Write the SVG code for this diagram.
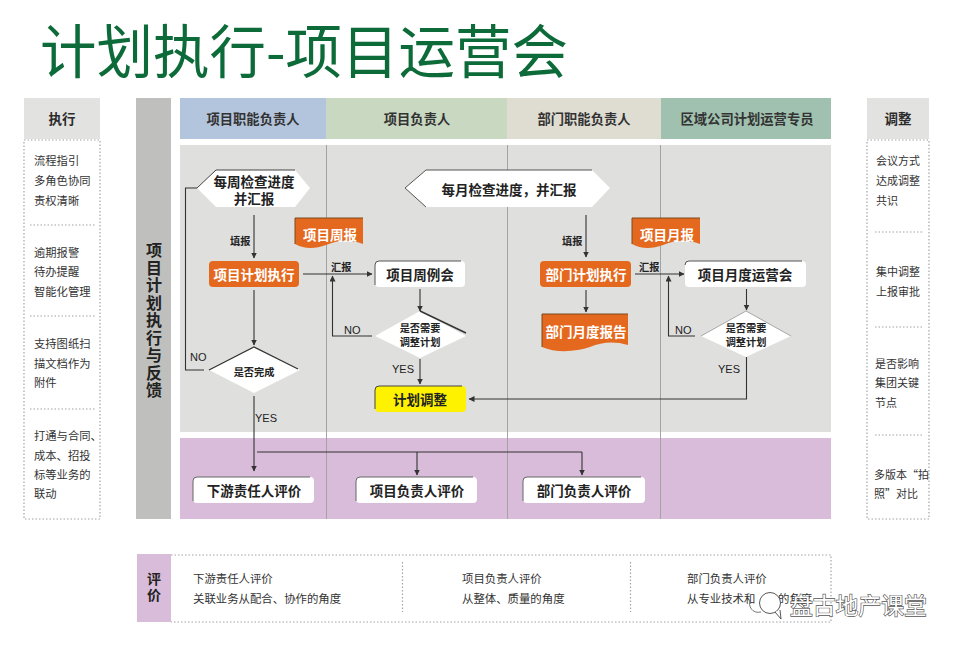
<svg xmlns="http://www.w3.org/2000/svg" width="958" height="646" viewBox="0 0 958 646">
<style>
text{font-family:"Noto Sans CJK SC","Liberation Sans",sans-serif;dominant-baseline:central;fill:#2b2b2b}
.c{text-anchor:middle}
.v{writing-mode:vertical-rl;text-orientation:upright;font-weight:700;text-anchor:middle;fill:#222}
.h{font-size:13.3px;font-weight:700;text-anchor:middle;fill:#333}
.n{font-size:13.5px;font-weight:700;text-anchor:middle;fill:#222}
.o{font-size:13.5px;font-weight:700;text-anchor:middle;fill:#fff}
.d{font-size:10.2px;font-weight:700;text-anchor:middle;fill:#222}
.s{font-size:11.3px;fill:#333}
.r{font-size:11px;fill:#333}
.b{font-size:11.4px;fill:#333}
.l{font-size:10.2px;font-weight:700;fill:#222}
.e{font-family:"Liberation Sans",sans-serif;font-size:11px;fill:#222}
.w{fill:#fff}
.or{fill:#e4691e}
.dot{fill:none;stroke:#a3a3a3;stroke-width:1.2;stroke-dasharray:1.5 2}
.cn{fill:none;stroke:#333;stroke-width:1.1}
.arr{marker-end:url(#a)}
.lane{stroke:#a3a3a3;stroke-width:1;fill:none}
</style>
<defs>
<marker id="a" markerUnits="userSpaceOnUse" markerWidth="7" markerHeight="7" refX="5.5" refY="3" orient="auto"><path d="M0,0L6,3L0,6Z" fill="#333"/></marker>
</defs>
<rect width="958" height="646" fill="#fff"/>
<text id="title" x="40" y="48" font-size="58" textLength="528" lengthAdjust="spacingAndGlyphs" style="fill:#0d6b3a">计划执行-项目运营会</text>

<g id="exec-panel">
<rect x="24" y="98" width="76" height="41" fill="#e2e2e0"/>
<text x="62" y="118" font-size="13.5" font-weight="700" class="c">执行</text>
<rect class="dot" x="24" y="140" width="76" height="379"/>
<path class="dot" d="M30,225H95M30,316H95M30,409H95"/>
<text class="s" x="34" y="160">流程指引</text><text class="s" x="34" y="180">多角色协同</text><text class="s" x="34" y="200">责权清晰</text>
<text class="s" x="34" y="252">逾期报警</text><text class="s" x="34" y="271">待办提醒</text><text class="s" x="34" y="291">智能化管理</text>
<text class="s" x="34" y="343">支持图纸扫</text><text class="s" x="34" y="363">描文档作为</text><text class="s" x="34" y="382">附件</text>
<text class="s" x="34" y="435">打通与合同、</text><text class="s" x="34" y="455">成本、招投</text><text class="s" x="34" y="474">标等业务的</text><text class="s" x="34" y="493">联动</text>
</g>

<g id="adjust-panel">
<rect x="867" y="98" width="62" height="41" fill="#e2e2e0"/>
<text x="898" y="118" font-size="13.5" font-weight="700" class="c">调整</text>
<rect class="dot" x="867" y="140" width="62" height="379"/>
<path class="dot" d="M875,232H922M875,327H922M875,435H922"/>
<text class="r" x="876" y="160">会议方式</text><text class="r" x="876" y="180">达成调整</text><text class="r" x="876" y="200">共识</text>
<text class="r" x="876" y="271">集中调整</text><text class="r" x="876" y="291">上报审批</text>
<text class="r" x="875" y="363">是否影响</text><text class="r" x="875" y="382">集团关键</text><text class="r" x="875" y="402">节点</text>
<text class="r" x="874" y="474">多版本“拍</text><text class="r" x="874" y="493">照”对比</text>
</g>

<g id="side-title">
<rect x="136" y="98" width="35" height="421" fill="#bfbfbd"/>
<text class="v" x="154" y="321" font-size="16" letter-spacing="1.5">项目计划执行与反馈</text>
</g>

<g id="swimlanes">
<rect x="180" y="98" width="146" height="41" fill="#b3c5dc"/>
<rect x="326" y="98" width="181" height="41" fill="#c9d8c1"/>
<rect x="507" y="98" width="154" height="41" fill="#dfddd2"/>
<rect x="661" y="98" width="170" height="41" fill="#a0c1af"/>
<text class="h" x="253" y="118">项目职能负责人</text>
<text class="h" x="417" y="118">项目负责人</text>
<text class="h" x="584" y="118">部门职能负责人</text>
<text class="h" x="747" y="118">区域公司计划运营专员</text>
<rect x="180" y="145" width="651" height="287" fill="#dfdfdd"/>
<rect x="180" y="438" width="651" height="81" fill="#d9bcd9"/>
<path class="lane" d="M326.500,145V519M507.500,145V519M660.500,145V519"/>
</g>

<g id="connectors">
<path class="cn" d="M204,370H185.500V188H197"/>
<path class="cn arr" d="M254,215V258"/>
<path class="cn arr" d="M254,290V345"/>
<path class="cn arr" d="M254,396V471"/>
<path class="cn" d="M257,452H582"/>
<path class="cn arr" d="M417,452V475"/>
<path class="cn arr" d="M582,452V475"/>
<path class="cn arr" d="M303,274H372"/>
<path class="cn arr" d="M372,336H332.500V276"/>
<path class="cn arr" d="M420,289V311"/>
<path class="cn arr" d="M420,359V384"/>
<path class="cn arr" d="M746.500,357V399H469"/>
<path class="cn arr" d="M586,215V257"/>
<path class="cn arr" d="M586,290V312"/>
<path class="cn arr" d="M635,274H684"/>
<path class="cn arr" d="M695,336H668.500V276"/>
<path class="cn arr" d="M746.500,289V310"/>
<text class="l" x="230" y="240">填报</text>
<text class="l" x="331" y="266">汇报</text>
<text class="l" x="562" y="240">填报</text>
<text class="l" x="639" y="266">汇报</text>
<text class="e" x="190" y="357">NO</text>
<text class="e" x="344" y="330">NO</text>
<text class="e" x="675" y="330">NO</text>
<text class="e" x="392" y="369">YES</text>
<text class="e" x="255" y="418">YES</text>
<text class="e" x="718" y="369">YES</text>
</g>

<g id="weekly-check">
<path class="w" d="M197,188L216,170H295L310,188L295,207H216Z"/>
<path d="M197,188L216,170H295" fill="none" stroke="#444"/>
<text class="n"><tspan x="254" y="181">每周检查进度</tspan><tspan x="254" y="198">并汇报</tspan></text>
</g>
<g id="monthly-check">
<path class="w" d="M405,188L426,170H592L610,188L592,207H426Z"/>
<path d="M426,207L405,188L426,170H592" fill="none" stroke="#555"/>
<text class="n" x="509" y="189">每月检查进度，并汇报</text>
</g>
<g id="weekly-report">
<path class="or" d="M295,218H363V244C350,239 338,240 326,245C315,249 304,249 295,244Z"/>
<path d="M295,244V218H363" fill="none" stroke="#7a4a20"/>
<text class="o" x="330" y="234">项目周报</text>
</g>
<g id="monthly-report">
<path class="or" d="M632,218H700V244C687,239 675,240 663,245C652,249 641,249 632,244Z"/>
<path d="M632,244V218H700" fill="none" stroke="#7a4a20"/>
<text class="o" x="667" y="234">项目月报</text>
</g>
<g id="plan-exec">
<rect class="or" x="209" y="261" width="90" height="26" rx="4"/>
<text class="o" x="254" y="274">项目计划执行</text>
</g>
<g id="weekly-meeting">
<rect class="w" x="375" y="261" width="90" height="26" rx="4"/>
<path d="M375,285V265Q375,261 379,261H461" fill="none" stroke="#555"/>
<text class="n" x="420" y="274">项目周例会</text>
</g>
<g id="dept-exec">
<rect class="or" x="540" y="261" width="91" height="26" rx="4"/>
<text class="o" x="586" y="274">部门计划执行</text>
</g>
<g id="dept-report">
<path class="or" d="M542,314H628V345C614,341 602,342 590,347C576,352 555,353 542,347Z"/>
<path d="M542,347V314H628" fill="none" stroke="#7a4a20"/>
<text class="o" x="586" y="331">部门月度报告</text>
</g>
<g id="monthly-meeting">
<rect class="w" x="685" y="261" width="121" height="26" rx="4"/>
<path d="M685,265Q685,261 689,261H802" fill="none" stroke="#555"/>
<text class="n" x="745" y="274">项目月度运营会</text>
</g>
<g id="decision-week">
<path class="w" d="M420,311L466,336L420,358L375,336Z"/>
<path d="M420,311L466,333" fill="none" stroke="#333" stroke-width="1.500"/>
<text class="d"><tspan x="420" y="327">是否需要</tspan><tspan x="420" y="341">调整计划</tspan></text>
</g>
<g id="decision-month">
<path class="w" d="M746,311L791,336L746,357L701,336Z"/>
<path d="M701,336L746,311L791,336" fill="none" stroke="#777" stroke-width=".6"/>
<text class="d"><tspan x="746" y="327">是否需要</tspan><tspan x="746" y="341">调整计划</tspan></text>
</g>
<g id="decision-done">
<path class="w" d="M254,347L300,370L254,393L209,370Z"/>
<path d="M209,370L254,347L298,369" fill="none" stroke="#333" stroke-width="1.200"/>
<text class="d" x="254" y="371">是否完成</text>
</g>
<g id="plan-adjust">
<rect x="375" y="386" width="91" height="26" rx="4" fill="#fff200"/>
<path d="M375,409V390Q375,386 379,386H462" fill="none" stroke="#444"/>
<text class="n" x="420" y="399">计划调整</text>
</g>
<g id="eval-downstream">
<rect class="w" x="193" y="477" width="121" height="26" rx="4"/>
<path d="M193,501V481Q193,477 197,477H310" fill="none" stroke="#666"/>
<text class="n" x="254" y="490">下游责任人评价</text>
</g>
<g id="eval-project">
<rect class="w" x="356" y="477" width="121" height="26" rx="4"/>
<path d="M356,501V481Q356,477 360,477H473" fill="none" stroke="#666"/>
<text class="n" x="417" y="490">项目负责人评价</text>
</g>
<g id="eval-dept">
<rect class="w" x="523" y="477" width="122" height="26" rx="4"/>
<path d="M523,501V481Q523,477 527,477H641" fill="none" stroke="#666"/>
<text class="n" x="584" y="490">部门负责人评价</text>
</g>

<g id="evaluation">
<rect x="137" y="554" width="34" height="68" fill="#d9bcd9"/>
<text class="v" x="154" y="588" font-size="14" letter-spacing="2">评价</text>
<path class="dot" d="M171,555H831V622H171M402.500,562V612M630.500,562V612"/>
<text class="b" x="193" y="578">下游责任人评价</text><text class="b" x="193" y="598">关联业务从配合、协作的角度</text>
<text class="b" x="462" y="578">项目负责人评价</text><text class="b" x="462" y="598">从整体、质量的角度</text>
<text class="b" x="687" y="578">部门负责人评价</text><text class="b" x="687" y="598">从专业技术和<tspan x="778">的角度</tspan></text>
</g>

<g id="watermark">
<path d="M761,612C752,614 748,606 750,600" fill="none" stroke="#555" stroke-width=".8"/>
<circle cx="770" cy="603" r="10.500" fill="#fff" stroke="#444" stroke-width=".9"/>
<path d="M775,612L781,619L780,610" fill="#fff" stroke="#444" stroke-width=".9"/>
<text x="790" y="604" font-size="22.800" style="fill:#fff;stroke:#555;stroke-width:1.300px;paint-order:stroke">盘古地产课堂</text>
</g>
</svg>
